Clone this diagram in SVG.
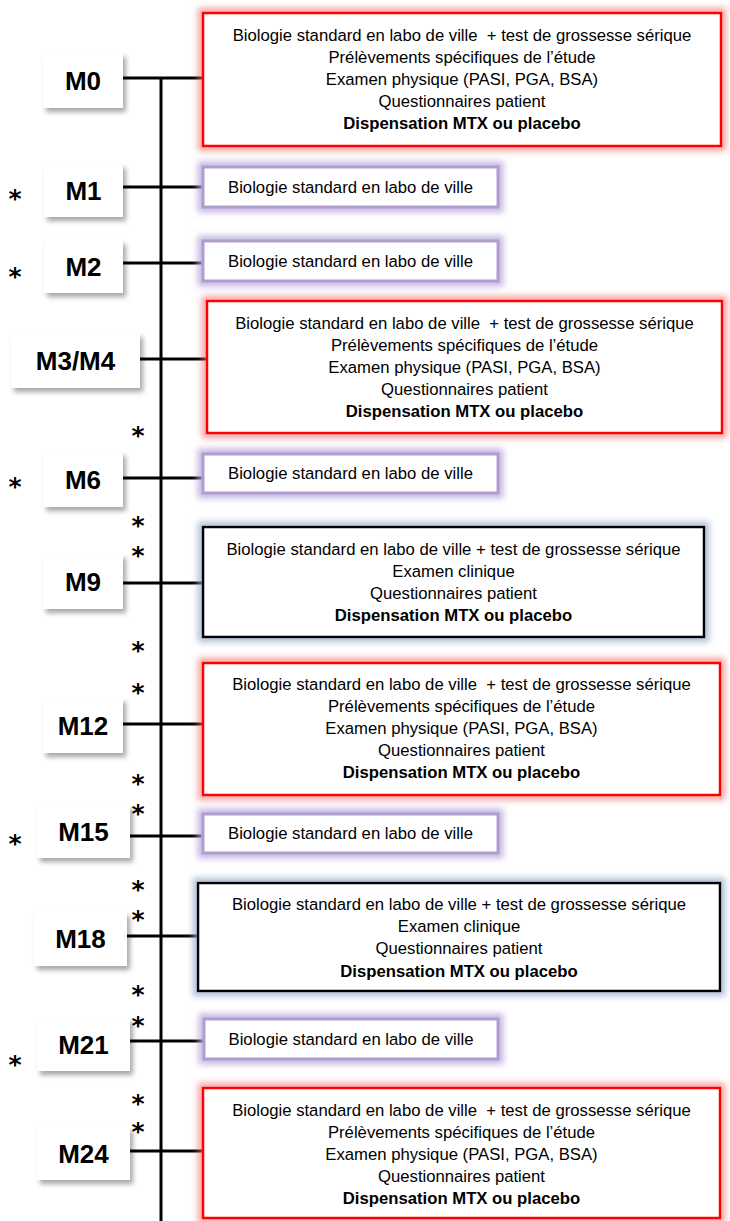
<svg xmlns="http://www.w3.org/2000/svg" width="730" height="1221" viewBox="0 0 730 1221">
<defs>
<style>
text{white-space:pre;font-family:"Liberation Sans",Arial,sans-serif;fill:#000}
.lbl{fill:#fff;filter:url(#shadow)}
.lt{font-size:26px;font-weight:bold;text-anchor:middle}
.dt{font-size:16.7px;text-anchor:middle}
.b{font-weight:bold}
.red{fill:#fff;stroke:#ff0000;stroke-width:2.5;filter:url(#glowRed)}
.pur{fill:#fff;stroke:#b09dd0;stroke-width:3;filter:url(#glowPur)}
.blk{fill:#fff;stroke:#000;stroke-width:2.5;filter:url(#glowBlu)}
.ast{font-family:"DejaVu Sans",sans-serif;font-size:25px;font-weight:bold;text-anchor:middle}
.con line{stroke:#000;stroke-width:3}
</style>
<filter id="shadow" x="-20%" y="-20%" width="150%" height="150%">
<feDropShadow dx="3" dy="4" stdDeviation="2.5" flood-color="#000" flood-opacity="0.35"/>
</filter>
<filter id="glowRed" x="-10%" y="-20%" width="120%" height="140%">
<feMorphology in="SourceAlpha" operator="dilate" radius="4" result="d"/>
<feGaussianBlur in="d" stdDeviation="3" result="b"/>
<feFlood flood-color="#f06a6a" flood-opacity="0.6"/>
<feComposite in2="b" operator="in" result="g"/>
<feMerge><feMergeNode in="g"/><feMergeNode in="SourceGraphic"/></feMerge>
</filter>
<filter id="glowPur" x="-10%" y="-40%" width="120%" height="180%">
<feMorphology in="SourceAlpha" operator="dilate" radius="4" result="d"/>
<feGaussianBlur in="d" stdDeviation="3" result="b"/>
<feFlood flood-color="#b9a6dc" flood-opacity="0.8"/>
<feComposite in2="b" operator="in" result="g"/>
<feMerge><feMergeNode in="g"/><feMergeNode in="SourceGraphic"/></feMerge>
</filter>
<filter id="glowBlu" x="-10%" y="-20%" width="120%" height="140%">
<feMorphology in="SourceAlpha" operator="dilate" radius="4" result="d"/>
<feGaussianBlur in="d" stdDeviation="3" result="b"/>
<feFlood flood-color="#8fa6c4" flood-opacity="0.7"/>
<feComposite in2="b" operator="in" result="g"/>
<feMerge><feMergeNode in="g"/><feMergeNode in="SourceGraphic"/></feMerge>
</filter>
</defs>
<rect width="730" height="1221" fill="#fff"/>

<g id="connectors" class="con">
<line x1="161" y1="79" x2="161" y2="1221"/>
<line x1="123" y1="78" x2="204" y2="78"/>
<line x1="123" y1="187" x2="204" y2="187"/>
<line x1="123" y1="263" x2="204" y2="263"/>
<line x1="140" y1="359" x2="208" y2="359"/>
<line x1="123" y1="478" x2="204" y2="478"/>
<line x1="123" y1="583" x2="204" y2="583"/>
<line x1="123" y1="724" x2="204" y2="724"/>
<line x1="130" y1="836" x2="204" y2="836"/>
<line x1="127" y1="936" x2="199" y2="936"/>
<line x1="130" y1="1041" x2="205" y2="1041"/>
<line x1="130" y1="1151" x2="204" y2="1151"/>
</g>

<g id="asterisks">
<text class="ast" x="15" y="207">*</text>
<text class="ast" x="15" y="285">*</text>
<text class="ast" x="15" y="495">*</text>
<text class="ast" x="15" y="852">*</text>
<text class="ast" x="15" y="1073">*</text>
<text class="ast" x="138" y="444">*</text>
<text class="ast" x="138" y="534">*</text>
<text class="ast" x="138" y="564">*</text>
<text class="ast" x="138" y="659">*</text>
<text class="ast" x="138" y="701">*</text>
<text class="ast" x="138" y="792">*</text>
<text class="ast" x="138" y="822">*</text>
<text class="ast" x="138" y="898">*</text>
<text class="ast" x="138" y="928">*</text>
<text class="ast" x="138" y="1003">*</text>
<text class="ast" x="138" y="1034">*</text>
<text class="ast" x="138" y="1112">*</text>
<text class="ast" x="138" y="1140">*</text>
</g>

<g id="M0">
<rect class="lbl" x="43" y="53" width="80" height="55"/>
<text class="lt" x="83" y="90">M0</text>
</g>
<g id="M0-details">
<rect class="red" x="203" y="13" width="518" height="133"/>
<text class="dt" x="462" y="41">Biologie standard en labo de ville  + test de grossesse sérique</text>
<text class="dt" x="462" y="63">Prélèvements spécifiques de l’étude</text>
<text class="dt" x="462" y="85">Examen physique (PASI, PGA, BSA)</text>
<text class="dt" x="462" y="107">Questionnaires patient</text>
<text class="dt b" x="462" y="129">Dispensation MTX ou placebo</text>
</g>

<g id="M1">
<rect class="lbl" x="44" y="164" width="79" height="53"/>
<text class="lt" x="83.5" y="200">M1</text>
</g>
<g id="M1-details">
<rect class="pur" x="203" y="167" width="295" height="40"/>
<text class="dt" x="350.5" y="193">Biologie standard en labo de ville</text>
</g>

<g id="M2">
<rect class="lbl" x="44" y="240" width="79" height="53"/>
<text class="lt" x="83.5" y="276">M2</text>
</g>
<g id="M2-details">
<rect class="pur" x="203" y="241" width="295" height="40"/>
<text class="dt" x="350.5" y="267">Biologie standard en labo de ville</text>
</g>

<g id="M3-M4">
<rect class="lbl" x="11" y="333" width="129" height="55"/>
<text class="lt" x="75.5" y="370">M3/M4</text>
</g>
<g id="M3-M4-details">
<rect class="red" x="207" y="301" width="515" height="132"/>
<text class="dt" x="464.5" y="329">Biologie standard en labo de ville  + test de grossesse sérique</text>
<text class="dt" x="464.5" y="351">Prélèvements spécifiques de l’étude</text>
<text class="dt" x="464.5" y="373">Examen physique (PASI, PGA, BSA)</text>
<text class="dt" x="464.5" y="395">Questionnaires patient</text>
<text class="dt b" x="464.5" y="417">Dispensation MTX ou placebo</text>
</g>

<g id="M6">
<rect class="lbl" x="43" y="452" width="80" height="55"/>
<text class="lt" x="83" y="489">M6</text>
</g>
<g id="M6-details">
<rect class="pur" x="203" y="454" width="295" height="39"/>
<text class="dt" x="350.5" y="479">Biologie standard en labo de ville</text>
</g>

<g id="M9">
<rect class="lbl" x="43" y="554" width="80" height="55"/>
<text class="lt" x="83" y="591">M9</text>
</g>
<g id="M9-details">
<rect class="blk" x="203" y="527" width="501" height="110"/>
<text class="dt" x="453.5" y="555">Biologie standard en labo de ville + test de grossesse sérique</text>
<text class="dt" x="453.5" y="577">Examen clinique</text>
<text class="dt" x="453.5" y="599">Questionnaires patient</text>
<text class="dt b" x="453.5" y="621">Dispensation MTX ou placebo</text>
</g>

<g id="M12">
<rect class="lbl" x="43" y="698" width="80" height="55"/>
<text class="lt" x="83" y="735">M12</text>
</g>
<g id="M12-details">
<rect class="red" x="203" y="663" width="517" height="132"/>
<text class="dt" x="461.5" y="690">Biologie standard en labo de ville  + test de grossesse sérique</text>
<text class="dt" x="461.5" y="712">Prélèvements spécifiques de l’étude</text>
<text class="dt" x="461.5" y="734">Examen physique (PASI, PGA, BSA)</text>
<text class="dt" x="461.5" y="756">Questionnaires patient</text>
<text class="dt b" x="461.5" y="778">Dispensation MTX ou placebo</text>
</g>

<g id="M15">
<rect class="lbl" x="37" y="805" width="93" height="53"/>
<text class="lt" x="83.5" y="841">M15</text>
</g>
<g id="M15-details">
<rect class="pur" x="203" y="814" width="295" height="39"/>
<text class="dt" x="350.5" y="839">Biologie standard en labo de ville</text>
</g>

<g id="M18">
<rect class="lbl" x="34" y="912" width="93" height="54"/>
<text class="lt" x="80.5" y="948">M18</text>
</g>
<g id="M18-details">
<rect class="blk" x="198" y="883" width="522" height="108"/>
<text class="dt" x="459" y="910">Biologie standard en labo de ville + test de grossesse sérique</text>
<text class="dt" x="459" y="932">Examen clinique</text>
<text class="dt" x="459" y="954">Questionnaires patient</text>
<text class="dt b" x="459" y="977">Dispensation MTX ou placebo</text>
</g>

<g id="M21">
<rect class="lbl" x="37" y="1018" width="93" height="53"/>
<text class="lt" x="83.5" y="1054">M21</text>
</g>
<g id="M21-details">
<rect class="pur" x="204" y="1019" width="294" height="40"/>
<text class="dt" x="351" y="1045">Biologie standard en labo de ville</text>
</g>

<g id="M24">
<rect class="lbl" x="37" y="1127" width="93" height="53"/>
<text class="lt" x="83.5" y="1163">M24</text>
</g>
<g id="M24-details">
<rect class="red" x="203" y="1088" width="517" height="130"/>
<text class="dt" x="461.5" y="1116">Biologie standard en labo de ville  + test de grossesse sérique</text>
<text class="dt" x="461.5" y="1138">Prélèvements spécifiques de l’étude</text>
<text class="dt" x="461.5" y="1160">Examen physique (PASI, PGA, BSA)</text>
<text class="dt" x="461.5" y="1182">Questionnaires patient</text>
<text class="dt b" x="461.5" y="1204">Dispensation MTX ou placebo</text>
</g>
</svg>
